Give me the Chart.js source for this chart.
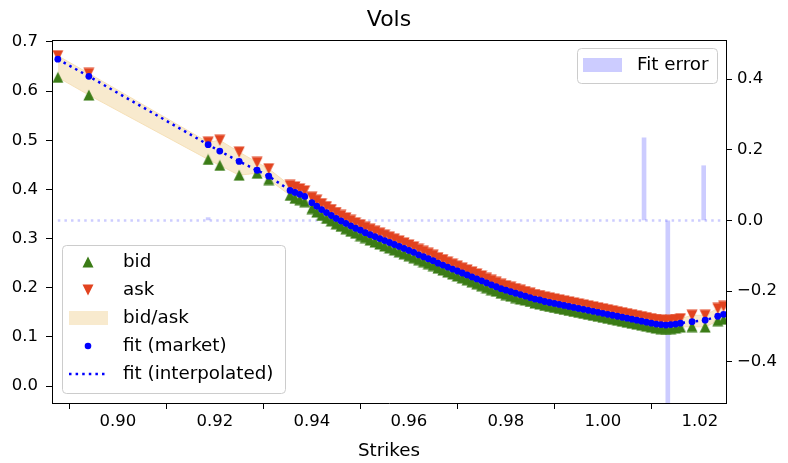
<!DOCTYPE html>
<html>
<head>
<meta charset="utf-8">
<title>Vols</title>
<script src="https://cdn.jsdelivr.net/npm/chart.js@4.4.1/dist/chart.umd.min.js"></script>
<style>
    html, body { margin: 0; padding: 0; background: #fff; }
    canvas { display: block; }
</style>
</head>
<body>
<canvas id="volChart" width="788" height="463"></canvas>
<script>
const strikes = [
    0.8876, 0.8940, 0.9186, 0.9210, 0.9250, 0.9287, 0.9311, 0.9355, 0.9365, 0.9375, 0.9385,
    0.940, 0.941, 0.942, 0.943, 0.944, 0.945, 0.946, 0.947, 0.948, 0.949,
    0.950, 0.951, 0.952, 0.953, 0.954, 0.955, 0.956, 0.957, 0.958, 0.959,
    0.960, 0.961, 0.962, 0.963, 0.964, 0.965, 0.966, 0.967, 0.968, 0.969,
    0.970, 0.971, 0.972, 0.973, 0.974, 0.975, 0.976, 0.977, 0.978, 0.979,
    0.980, 0.981, 0.982, 0.983, 0.984, 0.985, 0.986, 0.987, 0.988, 0.989,
    0.990, 0.991, 0.992, 0.993, 0.994, 0.995, 0.996, 0.997, 0.998, 0.999,
    1.000, 1.001, 1.002, 1.003, 1.004, 1.005, 1.006, 1.007, 1.008, 1.009,
    1.010, 1.011, 1.012, 1.013, 1.014, 1.015, 1.016,
    1.0184, 1.0211, 1.0237, 1.0249
];
const bidVols = [
    0.628, 0.592, 0.461, 0.449, 0.429, 0.433, 0.420, 0.388, 0.382, 0.379, 0.375,
    0.361, 0.354, 0.347, 0.341, 0.336, 0.330, 0.325, 0.320, 0.315, 0.311,
    0.306, 0.302, 0.297, 0.293, 0.289, 0.285, 0.281, 0.277, 0.273, 0.269,
    0.265, 0.261, 0.257, 0.253, 0.249, 0.245, 0.240, 0.236, 0.232, 0.228,
    0.224, 0.220, 0.216, 0.212, 0.208, 0.204, 0.200, 0.196, 0.193, 0.189,
    0.186, 0.183, 0.180, 0.177, 0.175, 0.172, 0.169, 0.167, 0.164, 0.162,
    0.160, 0.158, 0.156, 0.154, 0.152, 0.150, 0.148, 0.146, 0.144, 0.142,
    0.140, 0.138, 0.136, 0.134, 0.132, 0.130, 0.128, 0.126, 0.124, 0.122,
    0.120, 0.118, 0.117, 0.117, 0.117, 0.118, 0.120,
    0.121, 0.120, 0.133, 0.136
];
const askVols = [
    0.672, 0.636, 0.496, 0.500, 0.476, 0.455, 0.442, 0.408, 0.405, 0.401, 0.397,
    0.384, 0.378, 0.371, 0.365, 0.359, 0.353, 0.347, 0.342, 0.337, 0.332,
    0.328, 0.323, 0.319, 0.315, 0.311, 0.307, 0.303, 0.299, 0.295, 0.291,
    0.287, 0.283, 0.278, 0.274, 0.270, 0.266, 0.261, 0.257, 0.252, 0.248,
    0.244, 0.240, 0.236, 0.232, 0.228, 0.224, 0.219, 0.215, 0.211, 0.207,
    0.204, 0.201, 0.198, 0.195, 0.192, 0.189, 0.186, 0.184, 0.181, 0.179,
    0.177, 0.175, 0.173, 0.171, 0.169, 0.167, 0.165, 0.163, 0.161, 0.159,
    0.157, 0.155, 0.153, 0.151, 0.149, 0.147, 0.145, 0.143, 0.141, 0.139,
    0.137, 0.135, 0.134, 0.133, 0.134, 0.135, 0.137,
    0.144, 0.144, 0.158, 0.162
];
const fitVols = [
    0.665, 0.630, 0.491, 0.478, 0.457, 0.439, 0.427, 0.398, 0.394, 0.390, 0.386,
    0.373, 0.366, 0.359, 0.353, 0.347, 0.341, 0.336, 0.331, 0.326, 0.321,
    0.317, 0.312, 0.308, 0.304, 0.300, 0.296, 0.292, 0.288, 0.284, 0.280,
    0.276, 0.272, 0.267, 0.263, 0.259, 0.255, 0.250, 0.246, 0.242, 0.238,
    0.234, 0.230, 0.226, 0.222, 0.218, 0.214, 0.210, 0.206, 0.202, 0.198,
    0.195, 0.192, 0.189, 0.186, 0.183, 0.180, 0.177, 0.175, 0.172, 0.170,
    0.168, 0.166, 0.164, 0.162, 0.160, 0.158, 0.156, 0.154, 0.152, 0.150,
    0.148, 0.146, 0.144, 0.142, 0.140, 0.138, 0.136, 0.134, 0.132, 0.130,
    0.128, 0.126, 0.125, 0.124, 0.125, 0.126, 0.128,
    0.131, 0.134, 0.142, 0.146
];
// fit error (right axis)
const errStrikes = [0.9186, 1.0085, 1.0134, 1.0208];
const errValues = [0.008, 0.234, -0.6, 0.155];

const xTicks = [0.90, 0.92, 0.94, 0.96, 0.98, 1.00, 1.02];
const volTicks = [0.0, 0.1, 0.2, 0.3, 0.4, 0.5, 0.6, 0.7];
const errTicks = [-0.4, -0.2, 0.0, 0.2, 0.4];

const GREEN = '#3b7c16';
const RED = '#e2431f';
const BLUE = '#0000ff';
const WHEAT = 'rgba(245, 222, 179, 0.65)';
const LAVENDER = 'rgba(0, 0, 255, 0.2)';
const FONT = "'DejaVu Sans', sans-serif";
const FS_TICK = 16.5;
const FS_TEXT = 18.3;

function pts(xs, ys) {
    return xs.map((x, i) => ({ x: x, y: ys[i] }));
}

// matplotlib-like triangle marker as a small canvas
function triangleMarker(color, up) {
    const c = document.createElement('canvas');
    c.width = 12; c.height = 12;
    const g = c.getContext('2d');
    g.fillStyle = color;
    g.beginPath();
    if (up) {
        g.moveTo(6, 0.5); g.lineTo(11.5, 11.5); g.lineTo(0.5, 11.5);
    } else {
        g.moveTo(0.5, 0.5); g.lineTo(11.5, 0.5); g.lineTo(6, 11.5);
    }
    g.closePath();
    g.fill();
    return c;
}

const upTri = triangleMarker(GREEN, true);
const downTri = triangleMarker(RED, false);

function roundBox(ctx, x, y, w, h, r) {
    ctx.beginPath();
    ctx.moveTo(x + r, y);
    ctx.lineTo(x + w - r, y);
    ctx.quadraticCurveTo(x + w, y, x + w, y + r);
    ctx.lineTo(x + w, y + h - r);
    ctx.quadraticCurveTo(x + w, y + h, x + w - r, y + h);
    ctx.lineTo(x + r, y + h);
    ctx.quadraticCurveTo(x, y + h, x, y + h - r);
    ctx.lineTo(x, y + r);
    ctx.quadraticCurveTo(x, y, x + r, y);
    ctx.closePath();
    ctx.fillStyle = 'rgba(255,255,255,0.8)';
    ctx.fill();
    ctx.strokeStyle = '#cccccc';
    ctx.lineWidth = 1;
    ctx.stroke();
}

const overlay = {
    id: 'overlay',
    afterDraw(chart) {
        const { ctx, chartArea: a } = chart;
        ctx.save();

        // top spine
        ctx.strokeStyle = '#000';
        ctx.lineWidth = 1;
        ctx.beginPath();
        ctx.moveTo(a.left, a.top + 0.5);
        ctx.lineTo(a.right, a.top + 0.5);
        ctx.stroke();

        // title
        ctx.fillStyle = '#000';
        ctx.font = `22px ${FONT}`;
        ctx.textAlign = 'center';
        ctx.textBaseline = 'middle';
        ctx.fillText('Vols', (a.left + a.right) / 2, 20);

        // lower-left legend
        const lx = a.left + 10, ly = a.bottom - 158;
        roundBox(ctx, lx + 0.5, ly + 0.5, 223, 148, 4);
        ctx.font = `${FS_TEXT}px ${FONT}`;
        ctx.textAlign = 'left';
        const rows = ['bid', 'ask', 'bid/ask', 'fit (market)', 'fit (interpolated)'];
        rows.forEach((txt, i) => {
            const ry = ly + 17 + i * 28;
            const mx = lx + 26;
            if (i === 0) ctx.drawImage(upTri, mx - 6, ry - 6);
            if (i === 1) ctx.drawImage(downTri, mx - 6, ry - 6);
            if (i === 2) {
                ctx.fillStyle = WHEAT;
                ctx.fillRect(lx + 7, ry - 7, 39, 14);
            }
            if (i === 3) {
                ctx.fillStyle = BLUE;
                ctx.beginPath();
                ctx.arc(mx, ry, 3.3, 0, Math.PI * 2);
                ctx.fill();
            }
            if (i === 4) {
                ctx.strokeStyle = BLUE;
                ctx.lineWidth = 2.5;
                ctx.setLineDash([2.5, 4.1]);
                ctx.beginPath();
                ctx.moveTo(lx + 7, ry);
                ctx.lineTo(lx + 46, ry);
                ctx.stroke();
                ctx.setLineDash([]);
            }
            ctx.fillStyle = '#000';
            ctx.fillText(txt, lx + 61, ry);
        });

        // upper-right legend
        const rx = a.right - 149, ry0 = a.top + 8;
        roundBox(ctx, rx + 0.5, ry0 + 0.5, 140, 35, 4);
        ctx.fillStyle = 'rgba(0, 0, 255, 0.2)';
        ctx.fillRect(rx + 6, ry0 + 10, 39, 14);
        ctx.fillStyle = '#000';
        ctx.fillText('Fit error', rx + 60, ry0 + 17);

        ctx.restore();
    }
};

function tickFmt(digits) {
    return v => (v < 0 ? '\u2212' : '') + Math.abs(v).toFixed(digits);
}

function main() {
    const ctx = document.getElementById('volChart');
    const tickFont = { family: FONT, size: FS_TICK };
    const axisGrid = { drawOnChartArea: false, drawTicks: true, tickLength: 6, color: '#000', tickColor: '#000' };
    const axisBorder = { display: true, color: '#000', width: 1 };

    new Chart(ctx, {
        type: 'scatter',
        data: {
            datasets: [
                {
                    type: 'line', label: 'fit (interpolated)', data: pts(strikes, fitVols),
                    borderColor: BLUE, borderWidth: 2.5, borderDash: [2.5, 4.1],
                    pointRadius: 0, fill: false, tension: 0, order: 1
                },
                {
                    label: 'fit (market)', data: pts(strikes, fitVols),
                    pointStyle: 'circle', pointRadius: 3.4, borderWidth: 0,
                    backgroundColor: BLUE, order: 2
                },
                {
                    label: 'ask', data: pts(strikes, askVols),
                    pointStyle: downTri, pointRadius: 5, order: 3
                },
                {
                    label: 'bid', data: pts(strikes, bidVols),
                    pointStyle: upTri, pointRadius: 5, order: 4
                },
                {
                    type: 'line', label: 'bid/ask', data: pts(strikes, askVols),
                    borderColor: 'rgba(245, 222, 179, 0.9)', borderWidth: 1,
                    backgroundColor: WHEAT, pointRadius: 0, fill: '+1', tension: 0, order: 6
                },
                {
                    type: 'line', label: '_bidEdge', data: pts(strikes, bidVols),
                    borderColor: 'rgba(245, 222, 179, 0.9)', borderWidth: 1,
                    pointRadius: 0, fill: false, tension: 0, order: 6
                },
                {
                    type: 'bar', label: 'Fit error', data: pts(errStrikes, errValues),
                    yAxisID: 'yErr', backgroundColor: LAVENDER, borderWidth: 0,
                    barThickness: 4, clip: 0, order: 8
                },
                {
                    type: 'line', label: '_zero',
                    data: pts([strikes[0], strikes[strikes.length - 1]], [0, 0]),
                    yAxisID: 'yErr', borderColor: LAVENDER, borderWidth: 2.5,
                    borderDash: [2.5, 4.1], pointRadius: 0, fill: false, order: 9
                }
            ]
        },
        options: {
            responsive: false,
            animation: false,
            devicePixelRatio: 1,
            layout: { padding: { top: 40, left: 0, right: 0, bottom: 0 } },
            plugins: {
                legend: { display: false },
                title: { display: false },
                tooltip: { enabled: false }
            },
            scales: {
                x: {
                    type: 'linear', min: 0.8864, max: 1.0254, offset: false,
                    afterBuildTicks: s => { s.ticks = xTicks.map(v => ({ value: v })); },
                    afterFit: s => { s.height = 60; },
                    ticks: { callback: tickFmt(2), font: tickFont, color: '#000', padding: 3, autoSkip: false, maxRotation: 0 },
                    grid: axisGrid, border: axisBorder,
                    title: { display: true, text: 'Strikes', font: { family: FONT, size: FS_TEXT }, color: '#000', padding: { top: 0, bottom: 1 } }
                },
                y: {
                    type: 'linear', position: 'left', min: -0.0345, max: 0.704,
                    afterBuildTicks: s => { s.ticks = volTicks.map(v => ({ value: v })); },
                    afterFit: s => { s.width = 52; },
                    ticks: { callback: tickFmt(1), font: tickFont, color: '#000', padding: 8 },
                    grid: axisGrid, border: axisBorder
                },
                yErr: {
                    type: 'linear', position: 'right', min: -0.517, max: 0.511,
                    afterBuildTicks: s => { s.ticks = errTicks.map(v => ({ value: v })); },
                    afterFit: s => { s.width = 62; },
                    ticks: { callback: tickFmt(1), font: tickFont, color: '#000', padding: 5 },
                    grid: axisGrid, border: axisBorder
                }
            }
        },
        plugins: [overlay]
    });
}

if (document.readyState === 'loading') {
    document.addEventListener('DOMContentLoaded', main);
} else {
    main();
}
</script>
</body>
</html>
